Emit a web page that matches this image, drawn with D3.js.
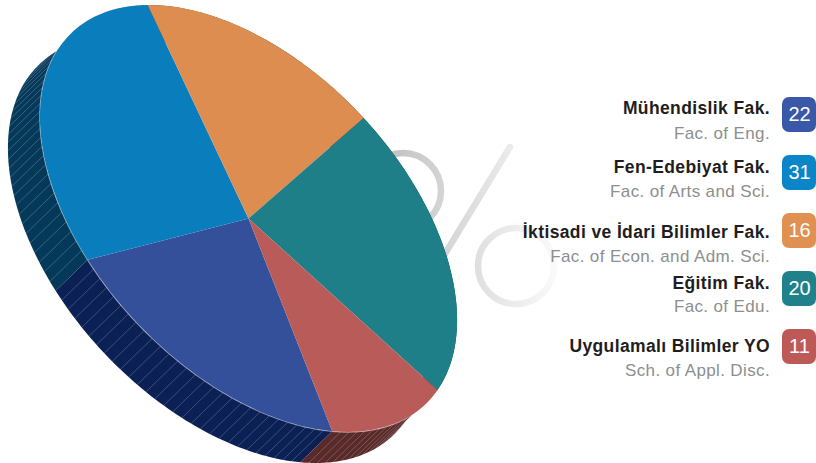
<!DOCTYPE html>
<html>
<head>
<meta charset="utf-8">
<script src="https://cdnjs.cloudflare.com/ajax/libs/d3/7.8.5/d3.min.js"></script>
<style>
    html, body { margin: 0; padding: 0; background: #fff; }
    svg { display: block; }
    text { font-family: "Liberation Sans", Arial, sans-serif; }
    .name { font-size: 17.5px; font-weight: 700; fill: #1f1d20; text-anchor: end; letter-spacing: 0.38px; }
    .sub { font-size: 17px; fill: #8c8e90; text-anchor: end; letter-spacing: 0.37px; }
    .num { font-size: 20px; fill: #fff; text-anchor: middle; }
</style>
</head>
<body>
<svg id="chart" width="816" height="463"></svg>
<script>
    const names = ["Mühendislik Fak.", "Fen-Edebiyat Fak.", "İktisadi ve İdari Bilimler Fak.", "Eğitim Fak.", "Uygulamalı Bilimler YO"]
    const subs = ["Fac. of Eng.", "Fac. of Arts and Sci.", "Fac. of Econ. and Adm. Sci.", "Fac. of Edu.", "Sch. of Appl. Disc."]
    const values = [22, 31, 16, 20, 11]
    const faceColors = ["#35509a", "#0a7dbd", "#dd8d50", "#1f7f88", "#b95b58"]
    const boxColors = ["#3a58a8", "#0a85c8", "#e09050", "#1f828a", "#bd5a58"]
    const sideColors = ["#0b2054", "#05395a", "#7a4a2a", "#10474c", "#5a2a2a"]

    const svg = d3.select("#chart")
    const rad = Math.PI / 180
    const cx = 248.5, cy = 218.5
    const tilt = 46.4 * rad, rx = 256.4, ry = 152.8
    const depth = [-32, 31]

    // the picture is a warped 3d pie, so true angles get shifted a bit
    const warp = a => a + (217.5 + 90) * rad
        + 8 * rad * Math.cos(a - 175 * rad)
        + 0.5 * rad * Math.cos(2 * (a - 100 * rad))

    // ghost percent sign behind the pie
    const grad = svg.append("defs").append("linearGradient")
        .attr("id", "pct")
        .attr("gradientUnits", "userSpaceOnUse")
        .attr("x1", 380).attr("x2", 560).attr("y1", 0).attr("y2", 0)
    grad.append("stop").attr("offset", 0).attr("stop-color", "#bfbfc1")
    grad.append("stop").attr("offset", 1).attr("stop-color", "#fbfbfb")

    const pct = svg.append("g").attr("fill", "none").attr("stroke", "url(#pct)").attr("stroke-width", 6.5)
    pct.append("circle").attr("cx", 403).attr("cy", 191).attr("r", 38)
    pct.append("circle").attr("cx", 516).attr("cy", 266).attr("r", 38)
    pct.append("line").attr("x1", 510).attr("y1", 147).attr("x2", 440).attr("y2", 262).attr("stroke-linecap", "round")

    const pie = d3.pie().sort(null).value(d => d)
        .startAngle(169.2 * rad).endAngle((169.2 + 360) * rad)
    const slices = pie(values)

    // a = d3.arc style angle, 0 at top and clockwise
    function rim(a) {
        const x = rx * Math.sin(a), y = -ry * Math.cos(a)
        return [cx + x * Math.cos(tilt) - y * Math.sin(tilt), cy + x * Math.sin(tilt) + y * Math.cos(tilt)]
    }
    const line = d3.line()

    // side walls
    const walls = svg.append("g")
    slices.forEach((s, i) => {
        const a0 = warp(s.startAngle), a1 = warp(s.endAngle)
        const top = d3.range(0, 61).map(k => rim(a0 + (a1 - a0) * k / 60))
        const low = top.map(p => [p[0] + depth[0], p[1] + depth[1]]).reverse()
        walls.append("path").attr("d", line(top.concat(low)) + "Z").attr("fill", sideColors[i])

        const hatch = walls.append("g").attr("stroke", "#fff").attr("stroke-opacity", 0.3).attr("stroke-width", 0.7)
        const n = Math.round((a1 - a0) / rad / 2.6)
        d3.range(1, n).forEach(k => {
            const p = rim(a0 + (a1 - a0) * k / n)
            hatch.append("line")
                .attr("x1", p[0]).attr("y1", p[1])
                .attr("x2", p[0] + depth[0]).attr("y2", p[1] + depth[1])
        })
        // pale edge where the wall meets the face
        if (i !== 2 && i !== 3) {
            walls.append("path").attr("d", line(top)).attr("fill", "none")
                .attr("stroke", "#fff").attr("stroke-opacity", 0.5).attr("stroke-width", 1.4)
        }
    })

    // top face
    const arc = d3.arc().innerRadius(0).outerRadius(100)
        .startAngle(d => warp(d.startAngle)).endAngle(d => warp(d.endAngle))
    svg.append("g")
        .attr("transform", `translate(${cx},${cy}) rotate(${tilt / rad}) scale(${rx / 100},${ry / 100})`)
        .selectAll("path")
        .data(slices)
        .join("path")
        .attr("d", arc)
        .attr("fill", (d, i) => faceColors[i])

    // legend
    const yBox = d3.scaleBand().domain(d3.range(values.length)).range([97, 387])
    const nameY = [114, 173, 238, 289, 352]
    const subY = [139, 197, 262, 312, 376]
    const legend = svg.append("g").selectAll("g").data(values).join("g")
    legend.append("rect")
        .attr("x", 782).attr("y", (d, i) => yBox(i))
        .attr("width", 34).attr("height", 35).attr("rx", 7)
        .attr("fill", (d, i) => boxColors[i])
    legend.append("text").attr("class", "num")
        .attr("x", 799.5).attr("y", (d, i) => yBox(i) + 24)
        .text(d => d)
    legend.append("text").attr("class", "name")
        .attr("x", 770).attr("y", (d, i) => nameY[i])
        .text((d, i) => names[i])
    legend.append("text").attr("class", "sub")
        .attr("x", 770).attr("y", (d, i) => subY[i])
        .text((d, i) => subs[i])
</script>
</body>
</html>
